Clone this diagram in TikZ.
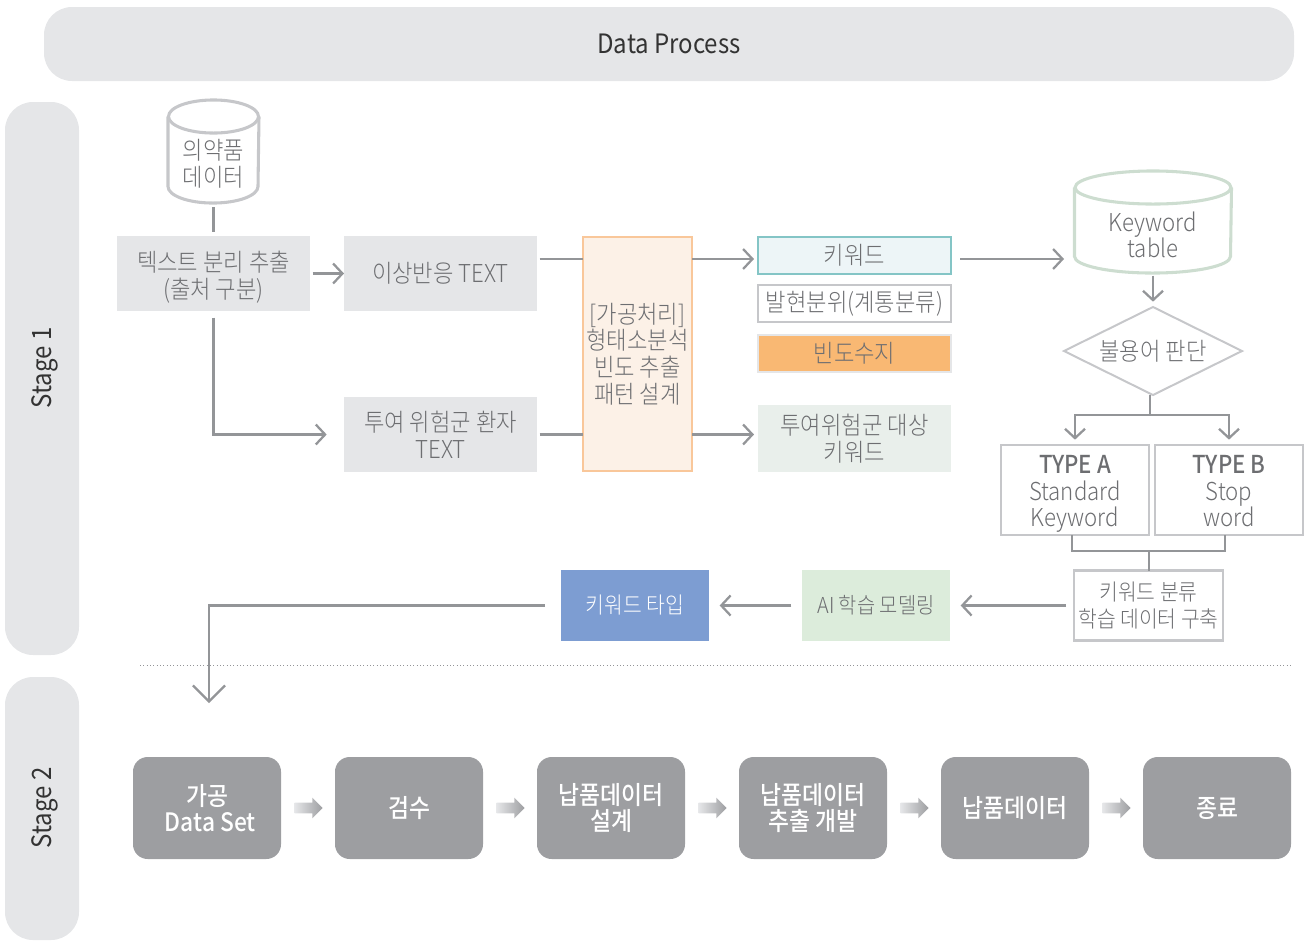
\documentclass[tikz,border=0pt]{standalone}
\usepackage{fontspec}
\setmainfont{Noto Sans CJK KR}[UprightFont=* Light,BoldFont=* Medium,FakeStretch=0.9]
\newfontfamily\regfont{Noto Sans CJK KR}[FakeStretch=0.9]
\usetikzlibrary{arrows.meta,calc,shapes.geometric,shapes.arrows}
\definecolor{barfill}{HTML}{E5E6E8}
\definecolor{linegray}{HTML}{939598}
\definecolor{textgray}{HTML}{6D6E71}
\definecolor{edgegray}{HTML}{C6C7CA}
\definecolor{stagefill}{HTML}{9D9EA1}
\definecolor{procfill}{HTML}{FCF1E7}
\definecolor{procedge}{HTML}{F9C79A}
\definecolor{keyfill}{HTML}{EDF5F7}
\definecolor{keyedge}{HTML}{84C5C6}
\definecolor{freqfill}{HTML}{F9B873}
\definecolor{riskfill}{HTML}{E9EFEB}
\definecolor{tableedge}{HTML}{CDDDD0}
\definecolor{aifill}{HTML}{DCECDB}
\definecolor{typefill}{HTML}{7D9DD2}
\tikzset{
	boxsize/.style 2 args={minimum width=#1*0.75pt, minimum height=#2*0.75pt},
	label text/.style={text=textgray, align=center, font=\fontsize{18.5}{20}\selectfont, inner sep=0pt, outer sep=0pt},
	tight text/.style={label text, font=\fontsize{17}{20}\selectfont},
	title text/.style={label text, text=black!80, font=\regfont\fontsize{20}{20}\selectfont},
	graybox/.style={label text, fill=barfill, boxsize={193}{75}},
	framebox/.style={label text, draw=edgegray, line width=1.8pt, boxsize={148}{90}},
	stagebox/.style={text=white, align=center, font=\fontsize{19}{20}\selectfont\bfseries, inner sep=0pt, outer sep=0pt,
		fill=stagefill, rounded corners=11pt, boxsize={148}{102}},
	barbox/.style={fill=barfill, rounded corners=21pt, inner sep=0pt},
	line/.style={draw=linegray, line width=1.9pt},
	flow/.style={line, -{Straight Barb[length=7pt,width=15pt,line width=1.7pt]}},
	stagearrow/.style={single arrow, single arrow head extend=3.75pt, inner sep=0pt, text height=7.5pt, text width=0pt,
		minimum height=21pt, left color=barfill, right color=stagefill, xshift=-1.5pt},
}
\begin{document}
\begin{tikzpicture}[x=0.75pt, y=-0.75pt]
	\useasboundingbox (0, 0) rectangle (1304, 940);
	% bars
	\node[barbox, title text, boxsize={1250}{74}] (process) at (669, 44) {\raisebox{0.75pt}{Data Process}};
	\node[barbox, boxsize={74}{553}] (stageone) at (42, 378.5) {};
	\node[barbox, boxsize={74}{263}] (stagetwo) at (42, 808.5) {};
	\node[title text, rotate=90] (stageonetext) at (45, 368) {Stage 1};
	\node[title text, rotate=90] (stagetwotext) at (45, 808) {Stage 2};
	\draw[linegray, line width=0.5pt, dotted] (140, 665) coordinate (sepl) -- (1293, 665) coordinate (sepr);

	% stage 1, left part
	\node[boxsize={91}{103}, inner sep=0pt, outer sep=0pt] (drugdb) at (213.5, 151.5) {};
	\node[label text] (drugtext) at (213.5, 164) {의약품\\데이터};
	\node[graybox] (extract) at (213.5, 273.5) {\rule{0pt}{21pt}텍스트 분리 추출\\(출처 구분)};
	\node[graybox] (adverse) at (440.5, 273.5) {이상반응 TEXT};
	\node[graybox] (risk) at (440.5, 434.5) {투여 위험군 환자\\TEXT};
	\node[label text, draw=procedge, fill=procfill, line width=0.8pt, boxsize={109}{234}] (proc) at (637.5, 354) {[가공처리]\\형태소분석\\빈도 추출\\패턴 설계};
	\coordinate (procup) at (583, 259);
	\coordinate (proclow) at (583, 434.5);

	\draw[line, shorten >=3pt, shorten <=3pt] (drugdb.south) -- (extract.north);
	\draw[flow, shorten <=2pt] (extract.east) -- (adverse.west);
	\draw[flow, shorten <=5pt, shorten >=13pt] (extract.south) |- (risk.west);
	\draw[line, shorten <=2pt] (adverse.east |- procup) -- (procup);
	\draw[line, shorten <=2pt] (risk.east |- proclow) -- (proclow);

	% stage 1, keyword boxes
	\node[label text, draw=keyedge, fill=keyfill, line width=0.8pt, boxsize={193}{37}] (keyword) at (854.5, 255.5) {키워드};
	\node[label text, draw=edgegray, line width=0.8pt, boxsize={193}{37}] (position) at (854.5, 303.5) {발현분위(계통분류)};
	\node[label text, draw=barfill, fill=freqfill, line width=0.8pt, boxsize={193}{37}] (freq) at (854.5, 353.5) {빈도수지};
	\node[label text, fill=riskfill, boxsize={193}{67}] (riskkey) at (854.5, 438.5) {투여위험군 대상\\키워드};
	\draw[flow, shorten >=3pt] (procup -| proc.east) -- (procup -| keyword.west);
	\draw[flow, shorten >=3pt] (proclow -| proc.east) -- (proclow -| riskkey.west);

	% stage 1, right part
	\node[boxsize={157}{102}, inner sep=0pt, outer sep=0pt] (keytable) at (1153, 222) {};
	\node[label text] (tabletext) at (1153, 235) {Keyword\\table};
	\node[diamond, aspect=2, label text, draw=edgegray, line width=1.5pt, boxsize={178}{88}] (stopword) at (1153, 351) {불용어 판단};
	\node[framebox] (typea) at (1075, 490) {\rule{0pt}{21pt}\textbf{TYPE A}\\Standard\\Keyword\rule[-6pt]{0pt}{0pt}};
	\node[framebox] (typeb) at (1229, 490) {\rule{0pt}{21pt}\textbf{TYPE B}\\Stop\\word\rule[-6pt]{0pt}{0pt}};
	\node[framebox, tight text, draw=edgegray, line width=1.8pt, boxsize={149}{70}] (build) at (1148.5, 605.5) {키워드 분류\\학습 데이터 구축};
	\coordinate (keyin) at (1064, 259);
	\coordinate (split) at (1150, 415);
	\coordinate (merge) at (1149, 551);
	\coordinate (stopbase) at (1150, 395);

	% drums
	\foreach \n/\c/\r in {drugdb/edgegray/45, keytable/tableedge/78} {
		\draw[\c, line width=2.3pt] ($(\n.north)+(0, 16.5)$) ellipse [x radius=\r*0.75pt, y radius=12.4pt];
		\draw[\c, line width=2.3pt] ($(\n.north west)+(0, 16.5)$) -- ($(\n.south west)+(0, -16.5)$)
			arc [start angle=180, end angle=360, x radius=\r*0.75pt, y radius=12.4pt] -- ($(\n.north east)+(0, 16.5)$);
	}

	\draw[flow, shorten <=7pt] (keyword.east |- keyin) -- (keyin);
	\draw[flow, shorten <=2pt, shorten >=4pt] (keytable.south) -- (stopword.north);
	\draw[line] (stopbase) -- (split);
	\draw[flow, shorten >=4pt] (split) -- (typea.north |- split) -- (typea.north);
	\draw[flow, shorten >=4pt] (split) -- (typeb.north |- split) -- (typeb.north);
	\draw[line] ($(typea.south)+(-3, 0)$) -- ($(typea.south)+(-3, 16)$) -| ($(typeb.south)+(-4, 0)$);
	\draw[line] (merge) -- (merge |- build.north);

	% stage 1, bottom row
	\node[tight text, fill=aifill, boxsize={148}{71}, font=\fontsize{16.5}{20}\selectfont] (aimodel) at (876, 605.5) {AI 학습 모델링};
	\node[tight text, text=white, fill=typefill, boxsize={148}{71}] (keytype) at (635, 605.5) {키워드 타입};
	\coordinate (datain) at (209, 703);
	\draw[flow, shorten <=6pt, shorten >=8pt] (build.west) -- (aimodel.east);
	\draw[flow, shorten <=8pt, shorten >=8pt] (aimodel.west) -- (keytype.east);
	\draw[line, -{Straight Barb[length=12pt,width=24pt,line width=1.7pt]}, shorten <=12pt] (keytype.west) -| (datain);

	% stage 2
	\node[stagebox] (dataset) at (207, 808) {가공\\\hspace*{5pt}Data Set};
	\node[stagebox] (review) at (409, 808) {검수};
	\node[stagebox] (design) at (611, 808) {납품데이터\\설계};
	\node[stagebox] (develop) at (813, 808) {납품데이터\\추출 개발};
	\node[stagebox] (delivery) at (1015, 808) {납품데이터};
	\node[stagebox] (finish) at (1217, 808) {종료};
	\foreach \a/\b in {dataset/review, review/design, design/develop, develop/delivery, delivery/finish}
		\node[stagearrow] (\a-arrow) at ($(\a.east)!0.5!(\b.west)$) {};
\end{tikzpicture}
\end{document}
